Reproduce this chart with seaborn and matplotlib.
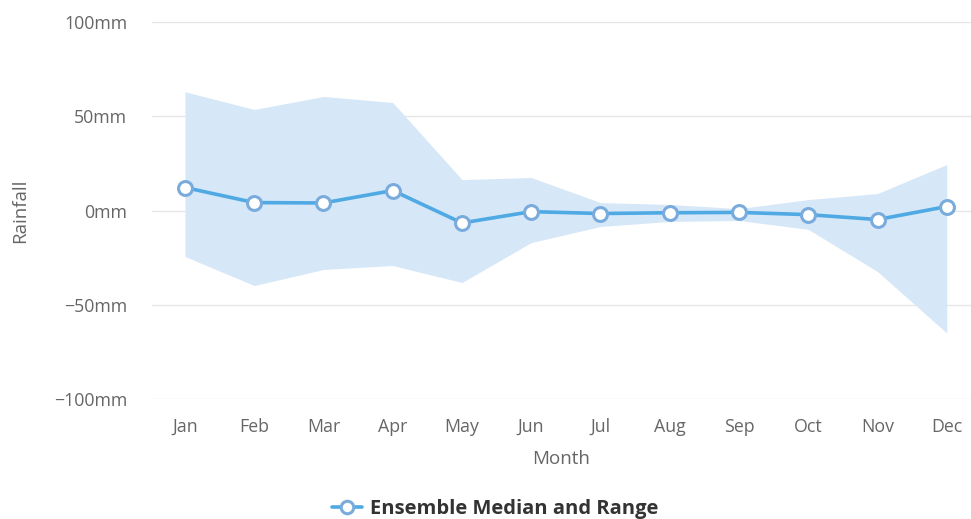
import numpy as np
import pandas as pd
import matplotlib
matplotlib.use("Agg")
import matplotlib.pyplot as plt
import seaborn as sns
from matplotlib.lines import Line2D

months = ["Jan", "Feb", "Mar", "Apr", "May", "Jun", "Jul", "Aug", "Sep", "Oct", "Nov", "Dec"]
median = [12.2, 4.2, 4.0, 10.6, -6.6, -0.6, -1.6, -1.2, -1.0, -2.2, -4.8, 2.1]
upper = [63.0, 53.6, 60.5, 57.3, 16.4, 17.5, 4.2, 3.2, 1.0, 5.8, 9.0, 24.4]
lower = [-24.4, -39.8, -31.3, -29.2, -38.2, -17.0, -8.5, -5.8, -5.3, -10.0, -32.4, -65.0]
yticks = [-100, -50, 0, 50, 100]

df = pd.DataFrame({"Month": months, "Median": median, "Upper": upper, "Lower": lower})
df["x"] = np.arange(len(df))

sns.set_style("white")
plt.rcParams["font.family"] = ["Open Sans", "DejaVu Sans"]

fig = plt.figure(figsize=(9.71, 5.19), dpi=100)
ax = fig.add_axes([152 / 971, 120 / 519, 819 / 971, 377 / 519])

line_col = "#4fa9e3"
fill_col = "#d6e7f8"
marker_edge = "#7aabdd"

ax.fill_between(df["x"], df["Lower"], df["Upper"], color=fill_col, lw=0, zorder=1)
sns.lineplot(data=df, x="x", y="Median", ax=ax, color=line_col, lw=2.6, zorder=3,
             marker="o", markersize=10, markerfacecolor="white",
             markeredgecolor=marker_edge, markeredgewidth=2.2)

ax.set_xlim(-0.476, 11.35)
ax.set_ylim(-100, 100)
ax.set_yticks(yticks)
ax.set_yticklabels([("\u2212" if v < 0 else "") + f"{abs(v)}mm" for v in yticks])
ax.set_xticks(df["x"])
ax.set_xticklabels(months)
for v in yticks:
    ax.axhline(v, color="#e6e6e6", lw=1, zorder=0)

for s in ax.spines.values():
    s.set_visible(False)
ax.tick_params(axis="both", length=0, labelsize=12.8, colors="#666666")
ax.tick_params(axis="y", pad=18)
ax.tick_params(axis="x", pad=13.5)

ax.set_xlabel("Month", fontsize=13.5, color="#666666", labelpad=10)
ax.set_ylabel("Rainfall", fontsize=13.5, color="#666666")
ax.yaxis.set_label_coords(-0.15, 0.5)

handle = Line2D([], [], color=line_col, lw=2.6, marker="o", markersize=9,
                markerfacecolor="white", markeredgecolor=marker_edge, markeredgewidth=2.2)
leg = fig.legend([handle], ["Ensemble Median and Range"], loc="center",
                 bbox_to_anchor=(495 / 971, 1 - 509 / 519), frameon=False,
                 prop={"weight": "bold", "size": 14.5}, handlelength=1.5, handletextpad=0.4)
for t in leg.get_texts():
    t.set_color("#333333")

plt.savefig("out.png", dpi=100)
